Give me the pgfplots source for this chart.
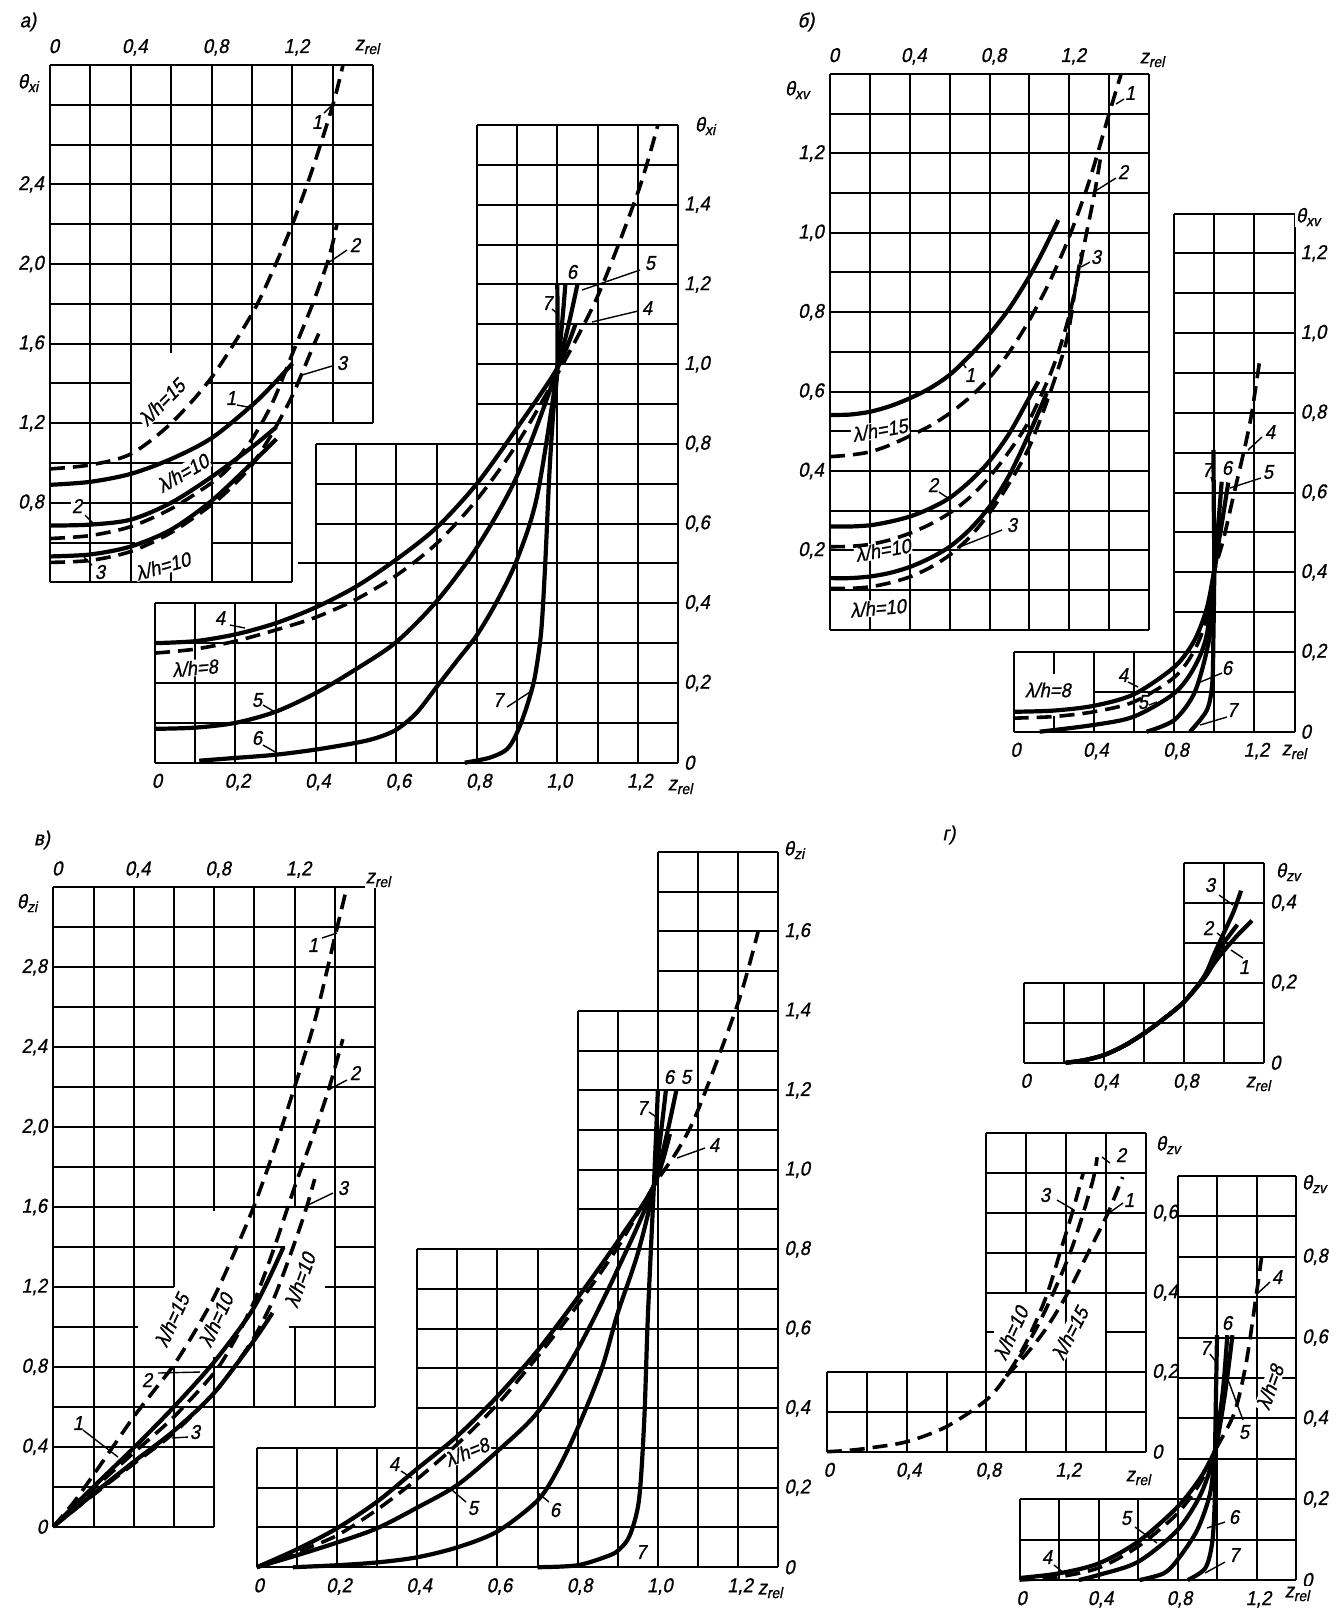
\documentclass[border=0pt]{standalone}
\usepackage{fontspec}
\setmainfont{Liberation Sans}
\newfontfamily\lblfont[FakeSlant=0.2,FakeBold=1,FakeStretch=0.92]{Liberation Sans}
\usepackage{pgfplots}
\pgfplotsset{compat=1.18}

\newcommand{\LBL}{\lblfont\fontsize{20}{22}\selectfont}
\newcommand{\sub}[1]{\raisebox{-0.35ex}{\fontsize{15}{15}\selectfont #1}}

\tikzset{
  gl/.style={black, line width=2pt},
  sc/.style={black, line width=4.2pt, smooth},
  dc/.style={black, line width=3.6pt, smooth, dash pattern=on 15pt off 8pt},
  ldr/.style={black, line width=1.4pt},
  tk/.style={font=\LBL, inner sep=1pt},
  lab/.style={tk, fill=white},
}

% one style per chart block: position and size in pixels of the scan (1pt = 1px)
\pgfplotsset{
  panel/.style={scale only axis, hide axis, clip=false, anchor=south west},
  pA1/.style={panel, at={(50pt,-582.3pt)}, width=323.3pt, height=517.3pt, xmin=0, xmax=1.6, ymin=0.4, ymax=3},
  pA2/.style={panel, at={(155pt,-762.7pt)}, width=523pt, height=637.7pt, xmin=0, xmax=1.3, ymin=0, ymax=1.6},
  pB1/.style={panel, at={(830pt,-629.7pt)}, width=319pt, height=555.7pt, xmin=0, xmax=1.6, ymin=0, ymax=1.4},
  pB2/.style={panel, at={(1013.6pt,-731.7pt)}, width=280.9pt, height=518.2pt, xmin=0, xmax=1.4, ymin=0, ymax=1.3},
  pC1/.style={panel, at={(53.3pt,-1526.7pt)}, width=321.7pt, height=639.4pt, xmin=0, xmax=1.6, ymin=0, ymax=3.2},
  pC2/.style={panel, at={(256.8pt,-1567.2pt)}, width=521.4pt, height=715.4pt, xmin=0, xmax=1.3, ymin=0, ymax=1.8},
  pD1/.style={panel, at={(1023.7pt,-1062.7pt)}, width=240.3pt, height=200pt, xmin=0, xmax=1.2, ymin=0, ymax=0.5},
  pD2/.style={panel, at={(826.8pt,-1451.7pt)}, width=319.2pt, height=318.4pt, xmin=0, xmax=1.6, ymin=0, ymax=0.8},
  pD3/.style={panel, at={(1019.6pt,-1580pt)}, width=276.4pt, height=404pt, xmin=0, xmax=1.4, ymin=0, ymax=1},
}

% grid block: x values, x from, x to, y values, y from, y to
\newcommand{\grect}[6]{%
  \pgfplotsinvokeforeach{#1}{\addplot[gl] coordinates {(##1,#5) (##1,#6)};}%
  \pgfplotsinvokeforeach{#4}{\addplot[gl] coordinates {(#2,##1) (#3,##1)};}%
}
\newcommand{\vl}[3]{\pgfplotsinvokeforeach{#1}{\addplot[gl] coordinates {(##1,#2) (##1,#3)};}}
\newcommand{\hl}[3]{\pgfplotsinvokeforeach{#1}{\addplot[gl] coordinates {(#2,##1) (#3,##1)};}}
\newcommand{\tlT}[3]{\node[tk,anchor=base,xshift=4pt,yshift=12pt] at (axis cs:#1,#2) {#3};}
\newcommand{\tlB}[3]{\node[tk,anchor=base,xshift=2pt,yshift=-25pt] at (axis cs:#1,#2) {#3};}
\newcommand{\tlL}[3]{\node[tk,anchor=east,xshift=-5pt] at (axis cs:#1,#2) {#3};}
\newcommand{\tlR}[3]{\node[tk,anchor=west,xshift=5pt] at (axis cs:#1,#2) {#3};}
\newcommand{\lb}[3]{\node[lab,#1] at (axis cs:#2) {#3};}
\newcommand{\leader}[2]{\draw[ldr] (axis cs:#1) -- (axis cs:#2);}
\newcommand{\lh}[1]{λ/h=#1}

\begin{document}
\begin{tikzpicture}

%%%%%%%%%%%%%%%% grids and tick labels
\begin{axis}[pA1]
  \vl{0,0.2,0.4,0.8,1,1.2,1.4,1.6}{1.2}{3}
  \vl{0,0.2,0.4,0.8,1,1.2}{0.4}{1.2}
  \vl{0.6}{1.55}{3} \vl{0.6}{0.4}{0.46}
  \hl{1.2,1.6,1.8,...,3}{0}{1.6}
  \hl{1.4}{0}{0.4} \hl{1.4}{0.78}{1.6}
  \hl{0.4,0.8,1}{0}{1.2}
  \hl{0.6}{0}{0.42} \hl{0.6}{0.8}{1.2}
  \tlT{0}{3}{0} \tlT{0.4}{3}{0,4} \tlT{0.8}{3}{0,8} \tlT{1.2}{3}{1,2}
  \tlL{0}{2.4}{2,4} \tlL{0}{2}{2,0} \tlL{0}{1.6}{1,6} \tlL{0}{1.2}{1,2} \tlL{0}{0.8}{0,8}
\end{axis}
\begin{axis}[pA2]
  \grect{0,0.1,...,0.4}{0}{0.4}{0,0.1,...,0.4}{0}{0.4}
  \grect{0.4,0.5,...,0.8}{0.4}{0.8}{0,0.1,...,0.8}{0}{0.8}
  \grect{0.8,0.9,...,1.3}{0.8}{1.3}{0,0.1,...,1.6}{0}{1.6}
  \hl{0.5}{0.355}{0.4}
  \tlB{0}{0}{0} \tlB{0.2}{0}{0,2} \tlB{0.4}{0}{0,4} \tlB{0.6}{0}{0,6}
  \tlB{0.8}{0}{0,8} \tlB{1.0}{0}{1,0} \tlB{1.2}{0}{1,2}
  \tlR{1.3}{1.4}{1,4} \tlR{1.3}{1.2}{1,2} \tlR{1.3}{1.0}{1,0} \tlR{1.3}{0.8}{0,8}
  \tlR{1.3}{0.6}{0,6} \tlR{1.3}{0.4}{0,4} \tlR{1.3}{0.2}{0,2} \tlR{1.3}{0}{0}
\end{axis}
\begin{axis}[pB1]
  \grect{0,0.2,...,1.6}{0}{1.6}{0,0.1,...,1.4}{0}{1.4}
  \tlT{0}{1.4}{0} \tlT{0.4}{1.4}{0,4} \tlT{0.8}{1.4}{0,8} \tlT{1.2}{1.4}{1,2}
  \tlL{0}{1.2}{1,2} \tlL{0}{1.0}{1,0} \tlL{0}{0.8}{0,8} \tlL{0}{0.6}{0,6}
  \tlL{0}{0.4}{0,4} \tlL{0}{0.2}{0,2}
\end{axis}
\begin{axis}[pB2]
  \vl{0,0.4,0.6,0.8,1,1.2,1.4}{0}{0.2}
  \vl{0.2}{0.146}{0.2} \vl{0.2}{0}{0.04}
  \hl{0,0.2}{0}{1.4}
  \addplot[gl] coordinates {(0.4,0.1) (1.4,0.1)};
  \vl{0.8,1,1.2,1.4}{0.2}{1.3}
  \hl{0.3,0.4,...,1.3}{0.8}{1.4}
  \tlB{0}{0}{0} \tlB{0.4}{0}{0,4} \tlB{0.8}{0}{0,8} \tlB{1.2}{0}{1,2}
  \tlR{1.4}{1.2}{1,2} \tlR{1.4}{1.0}{1,0} \tlR{1.4}{0.8}{0,8} \tlR{1.4}{0.6}{0,6}
  \tlR{1.4}{0.4}{0,4} \tlR{1.4}{0.2}{0,2} \tlR{1.4}{0}{0}
\end{axis}
\begin{axis}[pC1]
  \hl{1.6,1.8,...,3.2}{0}{1.6}
  \hl{1.4}{0}{1.15} \hl{1.4}{1.4}{1.6}
  \hl{1.2}{0}{0.6} \hl{1.2}{1.35}{1.6}
  \hl{1.0}{0}{0.42} \hl{1.0}{1.17}{1.6}
  \hl{0.6,0.8}{0}{1.6}
  \hl{0,0.2,0.4}{0}{0.8}
  \vl{0,0.2,0.4}{0}{3.2}
  \vl{0.6}{1.2}{3.2} \vl{0.6}{0}{0.8}
  \vl{0.8}{1.58}{3.2} \vl{0.8}{0}{0.85}
  \vl{1,1.4,1.6}{0.6}{3.2}
  \vl{1.2}{1.6}{3.2} \vl{1.2}{0.6}{1}
  \tlT{0}{3.2}{0} \tlT{0.4}{3.2}{0,4} \tlT{0.8}{3.2}{0,8} \tlT{1.2}{3.2}{1,2}
  \tlL{0}{2.8}{2,8} \tlL{0}{2.4}{2,4} \tlL{0}{2}{2,0} \tlL{0}{1.6}{1,6}
  \tlL{0}{1.2}{1,2} \tlL{0}{0.8}{0,8} \tlL{0}{0.4}{0,4} \tlL{0}{0}{0}
\end{axis}
\begin{axis}[pC2]
  \grect{0,0.1,...,0.4}{0}{0.4}{0,0.1,...,0.3}{0}{0.3}
  \grect{0.4,0.5,...,0.8}{0.4}{0.8}{0,0.1,...,0.8}{0}{0.8}
  \grect{0.8,0.9,1}{0.8}{1}{0,0.1,...,1.4}{0}{1.4}
  \grect{1,1.1,...,1.3}{1}{1.3}{0,0.1,...,1.8}{0}{1.8}
  \tlB{0}{0}{0} \tlB{0.2}{0}{0,2} \tlB{0.4}{0}{0,4} \tlB{0.6}{0}{0,6}
  \tlB{0.8}{0}{0,8} \tlB{1.0}{0}{1,0} \tlB{1.2}{0}{1,2}
  \tlR{1.3}{1.6}{1,6} \tlR{1.3}{1.4}{1,4} \tlR{1.3}{1.2}{1,2} \tlR{1.3}{1.0}{1,0}
  \tlR{1.3}{0.8}{0,8} \tlR{1.3}{0.6}{0,6} \tlR{1.3}{0.4}{0,4} \tlR{1.3}{0.2}{0,2} \tlR{1.3}{0}{0}
\end{axis}
\begin{axis}[pD1]
  \grect{0,0.2,...,1.2}{0}{1.2}{0,0.1,0.2}{0}{0.2}
  \grect{0.8,1,1.2}{0.8}{1.2}{0,0.1,...,0.5}{0}{0.5}
  \tlB{0}{0}{0} \tlB{0.4}{0}{0,4} \tlB{0.8}{0}{0,8}
  \tlR{1.2}{0.4}{0,4} \tlR{1.2}{0.2}{0,2} \tlR{1.2}{0}{0}
\end{axis}
\begin{axis}[pD2]
  \grect{0,0.2,...,1.6}{0}{1.6}{0,0.1,0.2}{0}{0.2}
  \vl{0.8,1.2,1.4,1.6}{0}{0.8}
  \vl{1}{0.4}{0.8} \vl{1}{0}{0.2}
  \hl{0.4,0.5,...,0.8}{0.8}{1.6}
  \hl{0.3}{0.8}{0.84} \hl{0.3}{1.4}{1.6}
  \tlB{0}{0}{0} \tlB{0.4}{0}{0,4} \tlB{0.8}{0}{0,8} \tlB{1.2}{0}{1,2}
  \tlR{1.6}{0.6}{0,6} \tlR{1.6}{0.4}{0,4} \tlR{1.6}{0.2}{0,2} \tlR{1.6}{0}{0}
\end{axis}
\begin{axis}[pD3]
  \grect{0,0.2,...,1.4}{0}{1.4}{0,0.1,0.2}{0}{0.2}
  \grect{0.8,1,...,1.4}{0.8}{1.4}{0,0.1,...,1}{0}{1}
  \tlB{0}{0}{0} \tlB{0.4}{0}{0,4} \tlB{0.8}{0}{0,8} \tlB{1.2}{0}{1,2}
  \tlR{1.4}{0.8}{0,8} \tlR{1.4}{0.6}{0,6} \tlR{1.4}{0.4}{0,4} \tlR{1.4}{0.2}{0,2} \tlR{1.4}{0}{0}
\end{axis}

%%%%%%%%%%%%%%%% labels and leaders, in pixel coordinates of the scan
\begin{axis}[scale only axis, hide axis, clip=false, anchor=south west,
  at={(0pt,-1613pt)}, width=1338pt, height=1613pt,
  xmin=0, xmax=1338, ymin=0, ymax=1613, y dir=reverse]
  % panel letters
  \lb{}{28,22}{а)} \lb{}{806,22}{б)} \lb{}{42,840}{в)} \lb{}{949,835}{г)}
  % axis names
  \lb{}{28,83}{θ\sub{xi}}   \lb{}{367,47}{z\sub{rel}}
  \lb{}{705,126}{θ\sub{xi}} \lb{}{680,787}{z\sub{rel}}
  \lb{}{797,90}{θ\sub{xv}}  \lb{}{1152,60}{z\sub{rel}}
  \lb{}{1308,217}{θ\sub{xv}} \lb{}{1294,752}{z\sub{rel}}
  \lb{}{27,903}{θ\sub{zi}}  \lb{}{378,880}{z\sub{rel}}
  \lb{}{794,850}{θ\sub{zi}} \lb{}{770,1591}{z\sub{rel}}
  \lb{}{1288,872}{θ\sub{zv}} \lb{}{1258,1084}{z\sub{rel}}
  \lb{}{1168,1145}{θ\sub{zv}} \lb{}{1138,1478}{z\sub{rel}}
  \lb{}{1314,1184}{θ\sub{zv}} \lb{}{1297,1594}{z\sub{rel}}
  % panel a, upper block
  \lb{}{317,122}{1} \leader{324,113}{333,104}
  \lb{}{355,245}{2} \leader{347,250}{328,263}
  \lb{}{342,363}{3} \leader{332,366}{302,375}
  \lb{rotate=45}{162,402}{\lh{15}}
  \lb{}{231,398}{1} \leader{237,405}{253,408}
  \lb{rotate=30}{183,473}{\lh{10}}
  \lb{}{77,506}{2} \leader{85,515}{93,523}
  \lb{rotate=16}{163,566}{\lh{10}}
  \lb{}{100,572}{3} \leader{92,565}{84,557}
  % panel a, lower block
  \lb{}{547,303}{7} \leader{552,309}{559,315}
  \lb{}{572,272}{6}
  \lb{}{650,263}{5} \leader{640,270}{582,290}
  \lb{}{647,308}{4} \leader{638,311}{592,322}
  \lb{}{220,618}{4} \leader{230,625}{245,628}
  \lb{rotate=5}{195,668}{\lh{8}}
  \lb{}{257,700}{5} \leader{263,705}{275,712}
  \lb{}{257,738}{6} \leader{263,745}{277,753}
  \lb{}{498,700}{7} \leader{507,707}{533,690}
  % panel b, upper block
  \lb{}{1130,93}{1} \leader{1124,99}{1116,104}
  \lb{}{1123,172}{2} \leader{1116,178}{1097,190}
  \lb{}{1096,257}{3} \leader{1090,262}{1081,267}
  \lb{}{970,375}{1} \leader{966,368}{962,362}
  \lb{rotate=10}{880,430}{\lh{15}}
  \lb{}{933,485}{2} \leader{939,492}{951,500}
  \lb{rotate=10}{883,550}{\lh{10}}
  \lb{}{1012,525}{3} \leader{1002,530}{957,548}
  \lb{rotate=5}{878,608}{\lh{10}}
  % panel b, lower block
  \lb{}{1207,470}{7} \leader{1211,477}{1213,484}
  \lb{}{1227,468}{6}
  \lb{}{1268,472}{5} \leader{1261,478}{1230,488}
  \lb{}{1270,432}{4} \leader{1262,437}{1248,450}
  \lb{}{1048,690}{\lh{8}}
  \lb{}{1123,675}{4} \leader{1128,682}{1138,687}
  \lb{}{1143,702}{5} \leader{1149,705}{1157,702}
  \lb{}{1227,668}{6} \leader{1222,673}{1198,683}
  \lb{}{1232,710}{7} \leader{1227,717}{1200,725}
  % panel v, left block
  \lb{}{313,945}{1} \leader{322,938}{337,933}
  \lb{}{355,1073}{2} \leader{347,1080}{328,1090}
  \lb{}{343,1188}{3} \leader{333,1193}{308,1205}
  \lb{rotate=65}{172,1320}{\lh{15}}
  \lb{rotate=65}{216,1320}{\lh{10}}
  \lb{rotate=70}{300,1280}{\lh{10}}
  \lb{}{147,1380}{2} \leader{158,1373}{200,1372}
  \lb{}{78,1423}{1} \leader{83,1430}{118,1457}
  \lb{}{195,1432}{3} \leader{188,1437}{172,1438}
  % panel v, right block
  \lb{}{669,1077}{6} \lb{}{686,1077}{5}
  \lb{}{642,1108}{7} \leader{649,1112}{658,1118}
  \lb{}{714,1145}{4} \leader{705,1148}{677,1158}
  \lb{}{394,1464}{4} \leader{401,1471}{412,1478}
  \lb{rotate=22}{467,1452}{\lh{8}}
  \lb{}{473,1508}{5} \leader{466,1502}{452,1490}
  \lb{}{555,1510}{6} \leader{549,1502}{537,1492}
  \lb{}{641,1552}{7}
  % panel g, top block
  \lb{}{1210,885}{3} \leader{1219,895}{1233,905}
  \lb{}{1208,928}{2} \leader{1217,933}{1226,940}
  \lb{}{1244,967}{1} \leader{1243,958}{1231,950}
  % panel g, middle block
  \lb{}{1121,1155}{2} \leader{1110,1163}{1102,1157}
  \lb{}{1045,1195}{3} \leader{1057,1200}{1074,1210}
  \lb{}{1129,1200}{1} \leader{1123,1203}{1109,1213}
  \lb{rotate=65}{1011,1333}{\lh{10}}
  \lb{rotate=62}{1070,1333}{\lh{15}}
  % panel g, lower block
  \lb{}{1227,1323}{6}
  \lb{}{1205,1348}{7} \leader{1210,1354}{1217,1363}
  \lb{}{1244,1432}{5} \leader{1243,1420}{1227,1377}
  \lb{rotate=70}{1270,1387}{\lh{8}}
  \lb{}{1277,1277}{4} \leader{1270,1282}{1258,1293}
  \lb{}{1126,1518}{5} \leader{1135,1527}{1157,1543}
  \lb{}{1234,1517}{6} \leader{1225,1522}{1207,1528}
  \lb{}{1047,1557}{4} \leader{1054,1565}{1064,1573}
  \lb{}{1234,1555}{7} \leader{1225,1562}{1205,1573}
\end{axis}

%%%%%%%%%%%%%%%% curves
\begin{axis}[pA1]
  \addplot[dc] coordinates {(0,0.97)(0.2,0.99)(0.4,1.045)(0.6,1.2)(0.8,1.43)(1.0,1.75)(1.1,1.96)(1.2,2.2)(1.3,2.48)(1.4,2.8)(1.45,3.0)};
  \addplot[sc] coordinates {(0,0.89)(0.2,0.905)(0.4,0.945)(0.6,1.02)(0.8,1.125)(1.0,1.29)(1.1,1.39)(1.2,1.5)};
  \addplot[dc] coordinates {(0,0.62)(0.2,0.635)(0.4,0.68)(0.6,0.77)(0.8,0.9)(0.9,0.99)(1.0,1.12)(1.1,1.3)(1.2,1.55)(1.3,1.8)(1.38,2.03)(1.42,2.2)};
  \addplot[sc] coordinates {(0,0.685)(0.2,0.69)(0.4,0.715)(0.6,0.8)(0.8,0.93)(1.0,1.08)(1.12,1.18)};
  \addplot[sc] coordinates {(0,0.53)(0.2,0.54)(0.4,0.58)(0.6,0.665)(0.8,0.81)(1.0,1.0)(1.12,1.12)};
  \addplot[dc] coordinates {(0,0.5)(0.2,0.51)(0.4,0.555)(0.6,0.65)(0.8,0.79)(0.9,0.88)(1.0,0.99)(1.1,1.15)(1.2,1.34)(1.3,1.58)(1.33,1.65)};
\end{axis}
\begin{axis}[pA2]
  \addplot[sc] coordinates {(0,0.30)(0.1,0.305)(0.2,0.322)(0.3,0.35)(0.4,0.39)(0.5,0.442)(0.6,0.51)(0.7,0.59)(0.8,0.7)(0.9,0.84)(1.0,0.99)(1.045,1.1)};
  \addplot[dc] coordinates {(0,0.275)(0.1,0.285)(0.2,0.305)(0.3,0.333)(0.4,0.365)(0.5,0.41)(0.6,0.47)(0.7,0.55)(0.8,0.66)(0.9,0.8)(1.0,0.975)(1.1,1.17)(1.2,1.43)(1.25,1.6)};
  \addplot[sc] coordinates {(0,0.085)(0.1,0.088)(0.2,0.1)(0.3,0.128)(0.4,0.175)(0.5,0.235)(0.6,0.303)(0.7,0.405)(0.8,0.54)(0.9,0.72)(1.0,0.99)(1.05,1.2)};
  \addplot[sc] coordinates {(0.11,0.005)(0.2,0.012)(0.3,0.02)(0.4,0.033)(0.5,0.05)(0.55,0.062)(0.6,0.083)(0.65,0.125)(0.7,0.19)(0.75,0.255)(0.8,0.32)(0.85,0.405)(0.9,0.51)(0.95,0.67)(1.0,0.99)(1.02,1.2)};
  \addplot[sc] coordinates {(0.77,0)(0.83,0.012)(0.87,0.03)(0.89,0.055)(0.91,0.1)(0.93,0.16)(0.945,0.22)(0.96,0.33)(0.97,0.5)(0.98,0.72)(0.99,0.88)(1.0,0.99)(1.0,1.2)};
\end{axis}
\begin{axis}[pB1]
  \addplot[sc] coordinates {(0,0.541)(0.1,0.542)(0.2,0.549)(0.3,0.563)(0.4,0.583)(0.5,0.608)(0.6,0.642)(0.7,0.69)(0.8,0.745)(0.9,0.81)(1.0,0.89)(1.07,0.955)(1.145,1.032)};
  \addplot[dc] coordinates {(0,0.436)(0.1,0.44)(0.2,0.448)(0.3,0.465)(0.4,0.488)(0.5,0.513)(0.6,0.545)(0.7,0.585)(0.8,0.635)(0.9,0.7)(1.0,0.78)(1.1,0.875)(1.2,0.99)(1.3,1.13)(1.4,1.3)(1.46,1.4)};
  \addplot[sc] coordinates {(0,0.26)(0.1,0.26)(0.2,0.263)(0.3,0.272)(0.4,0.285)(0.5,0.305)(0.6,0.332)(0.7,0.373)(0.8,0.425)(0.9,0.495)(1.0,0.585)(1.045,0.625)};
  \addplot[dc] coordinates {(0,0.209)(0.1,0.21)(0.2,0.215)(0.3,0.226)(0.4,0.243)(0.5,0.265)(0.6,0.294)(0.7,0.333)(0.8,0.385)(0.9,0.45)(1.0,0.528)(1.12,0.663)(1.204,0.8)(1.287,1.0)(1.33,1.108)(1.36,1.2)};
  \addplot[sc] coordinates {(0,0.13)(0.1,0.13)(0.2,0.134)(0.3,0.143)(0.4,0.158)(0.5,0.18)(0.6,0.209)(0.7,0.252)(0.8,0.31)(0.9,0.39)(1.0,0.495)(1.087,0.596)};
  \addplot[dc] coordinates {(0,0.104)(0.1,0.104)(0.2,0.108)(0.3,0.118)(0.4,0.133)(0.5,0.156)(0.6,0.188)(0.7,0.233)(0.8,0.294)(0.9,0.37)(1.0,0.461)(1.103,0.596)(1.187,0.73)(1.237,0.881)(1.262,0.95)};
\end{axis}
\begin{axis}[pB2]
  \addplot[sc] coordinates {(0,0.05)(0.2,0.053)(0.4,0.065)(0.6,0.094)(0.8,0.162)(0.9,0.228)(0.963,0.31)(1.0,0.405)(1.02,0.46)};
  \addplot[dc] coordinates {(0,0.034)(0.2,0.038)(0.4,0.05)(0.6,0.075)(0.8,0.136)(0.9,0.203)(0.963,0.286)(1.0,0.4)(1.045,0.481)(1.095,0.59)(1.153,0.715)(1.187,0.8)(1.226,0.93)};
  \addplot[sc] coordinates {(0.13,0)(0.4,0.017)(0.6,0.038)(0.8,0.096)(0.9,0.161)(0.963,0.244)(1.0,0.405)(1.04,0.53)(1.07,0.625)};
  \addplot[sc] coordinates {(0.663,0)(0.8,0.029)(0.9,0.096)(0.963,0.203)(0.987,0.286)(1.0,0.405)(1.02,0.52)(1.037,0.627)};
  \addplot[sc] coordinates {(0.879,0)(0.963,0.054)(0.99,0.121)(0.996,0.244)(1.0,0.405)(0.998,0.55)(0.996,0.707)};
\end{axis}
\begin{axis}[pC1]
  \addplot[dc] coordinates {(0,0)(0.1,0.12)(0.2,0.26)(0.3,0.405)(0.4,0.55)(0.5,0.68)(0.6,0.81)(0.7,0.97)(0.8,1.15)(0.9,1.37)(1.0,1.61)(1.1,1.89)(1.2,2.2)(1.3,2.53)(1.4,2.95)(1.46,3.2)};
  \addplot[sc] coordinates {(0,0)(0.2,0.2)(0.4,0.395)(0.6,0.6)(0.8,0.825)(1.0,1.1)(1.145,1.4)};
  \addplot[dc] coordinates {(0,0)(0.2,0.19)(0.4,0.37)(0.6,0.55)(0.8,0.77)(0.9,0.93)(1.0,1.13)(1.1,1.4)(1.2,1.7)(1.3,1.98)(1.37,2.19)(1.44,2.44)};
  \addplot[sc] coordinates {(0,0)(0.2,0.165)(0.4,0.325)(0.6,0.48)(0.8,0.67)(1.0,0.935)(1.09,1.07)};
  \addplot[dc] coordinates {(0,0)(0.2,0.16)(0.4,0.315)(0.6,0.47)(0.8,0.67)(0.9,0.8)(1.0,0.95)(1.1,1.15)(1.2,1.42)(1.26,1.6)(1.3,1.74)};
\end{axis}
\begin{axis}[pC2]
  \addplot[sc] coordinates {(0,0)(0.1,0.045)(0.2,0.098)(0.3,0.165)(0.4,0.248)(0.5,0.33)(0.6,0.43)(0.7,0.545)(0.8,0.678)(0.9,0.82)(0.99,0.96)(1.03,1.09)};
  \addplot[dc] coordinates {(0,0)(0.1,0.038)(0.2,0.08)(0.3,0.145)(0.4,0.222)(0.5,0.31)(0.6,0.41)(0.7,0.53)(0.8,0.66)(0.9,0.805)(0.99,0.96)(1.05,1.05)(1.1,1.15)(1.2,1.42)(1.25,1.6)};
  \addplot[sc] coordinates {(0,0)(0.1,0.03)(0.2,0.062)(0.3,0.098)(0.4,0.15)(0.5,0.207)(0.6,0.292)(0.7,0.39)(0.8,0.548)(0.9,0.75)(0.99,0.96)(1.046,1.2)};
  \addplot[sc] coordinates {(0.09,0)(0.2,0.005)(0.3,0.012)(0.4,0.025)(0.5,0.05)(0.6,0.09)(0.7,0.168)(0.75,0.245)(0.8,0.35)(0.86,0.5)(0.9,0.64)(0.95,0.79)(0.99,0.96)(1.02,1.2)};
  \addplot[sc] coordinates {(0.7,0)(0.8,0.005)(0.88,0.03)(0.905,0.046)(0.93,0.08)(0.953,0.17)(0.966,0.37)(0.975,0.63)(0.99,0.96)(1.0,1.2)};
\end{axis}
\begin{axis}[pD1]
  \addplot[sc] coordinates {(0.21,0)(0.3,0.006)(0.4,0.019)(0.5,0.042)(0.6,0.073)(0.7,0.11)(0.8,0.152)(0.9,0.215)(0.95,0.27)(1.0,0.325)(1.05,0.38)(1.085,0.43)};
  \addplot[sc] coordinates {(0.21,0)(0.3,0.006)(0.4,0.019)(0.5,0.042)(0.6,0.073)(0.7,0.11)(0.8,0.152)(0.9,0.213)(0.95,0.258)(1.0,0.3)(1.067,0.345)};
  \addplot[sc] coordinates {(0.21,0)(0.3,0.006)(0.4,0.019)(0.5,0.042)(0.6,0.073)(0.7,0.11)(0.8,0.152)(0.9,0.21)(0.95,0.248)(1.0,0.28)(1.07,0.32)(1.14,0.355)};
\end{axis}
\begin{axis}[pD2]
  \addplot[dc] coordinates {(0,0)(0.1,0.003)(0.2,0.0085)(0.4,0.025)(0.6,0.063)(0.8,0.13)(0.9,0.19)(1.0,0.275)(1.1,0.39)(1.173,0.507)(1.23,0.6)(1.285,0.7)};
  \addplot[dc] coordinates {(0.9,0.19)(1.0,0.265)(1.1,0.36)(1.225,0.507)(1.33,0.675)(1.355,0.74)};
  \addplot[dc] coordinates {(0.9,0.19)(1.0,0.245)(1.1,0.31)(1.207,0.398)(1.3,0.49)(1.405,0.595)(1.483,0.69)};
\end{axis}
\begin{axis}[pD3]
  \addplot[sc] coordinates {(0,0.005)(0.2,0.0165)(0.4,0.041)(0.6,0.095)(0.8,0.181)(0.92,0.256)(0.99,0.32)};
  \addplot[dc] coordinates {(0,0)(0.2,0.008)(0.4,0.03)(0.6,0.083)(0.8,0.165)(0.92,0.245)(0.99,0.32)(1.087,0.413)(1.147,0.536)(1.2,0.71)(1.226,0.8)};
  \addplot[sc] coordinates {(0.3,0)(0.4,0.0125)(0.6,0.045)(0.8,0.124)(0.92,0.215)(0.99,0.32)(1.04,0.46)(1.078,0.606)};
  \addplot[sc] coordinates {(0.608,0)(0.73,0.0165)(0.8,0.05)(0.9,0.124)(0.965,0.215)(0.99,0.32)(1.03,0.47)(1.052,0.606)};
  \addplot[sc] coordinates {(0.852,0)(0.94,0.029)(0.975,0.091)(0.988,0.19)(0.99,0.32)(0.995,0.47)(1.0,0.606)};
\end{axis}

\pgfresetboundingbox
\path (0pt,0pt) rectangle (1338pt,-1613pt);
\end{tikzpicture}
\end{document}
